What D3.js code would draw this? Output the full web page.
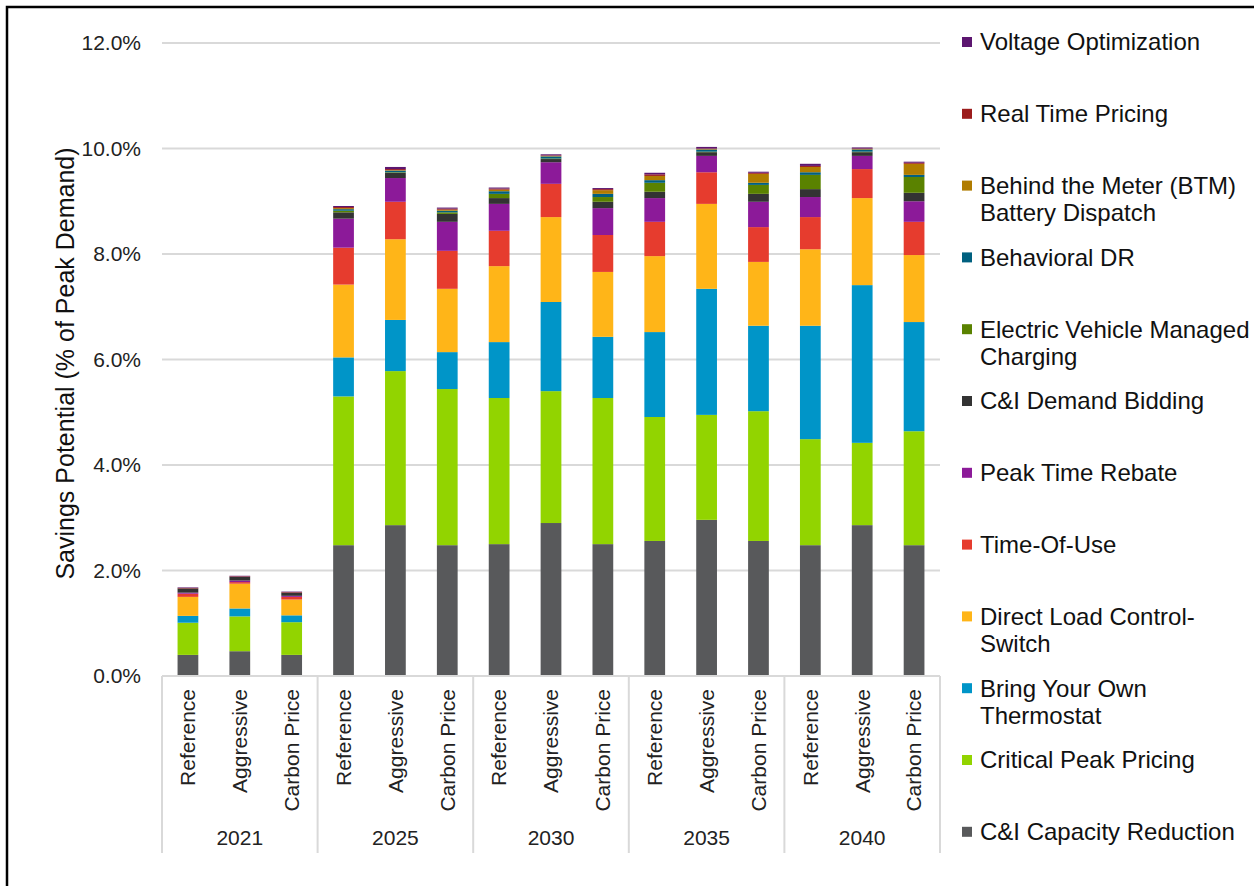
<!DOCTYPE html>
<head>
  <meta charset="utf-8">
  <script src="https://d3js.org/d3.v7.min.js"></script>
  <style>
  body,html {margin:0; background:#fff; font-family:"Liberation Sans", Arial, sans-serif;}
  </style>
</head>
<body>
<script>
// categories
const years = ["2021", "2025", "2030", "2035", "2040"];
const scenarios = ["Reference", "Aggressive", "Carbon Price"];

// series, bottom of stack first (values in % of peak demand)
const capacityReduction = [0.40,0.47,0.40, 2.48,2.86,2.48, 2.50,2.90,2.50, 2.56,2.96,2.56, 2.48,2.86,2.48];
const criticalPeak      = [0.61,0.66,0.62, 2.82,2.92,2.96, 2.77,2.50,2.77, 2.35,1.99,2.46, 2.01,1.56,2.16];
const byot              = [0.13,0.15,0.13, 0.74,0.97,0.70, 1.06,1.69,1.16, 1.61,2.39,1.62, 2.15,2.99,2.07];
const dlcSwitch         = [0.36,0.47,0.30, 1.38,1.53,1.20, 1.44,1.61,1.23, 1.44,1.61,1.21, 1.45,1.65,1.27];
const timeOfUse         = [0.06,0.03,0.05, 0.70,0.71,0.72, 0.67,0.63,0.70, 0.65,0.60,0.66, 0.61,0.55,0.63];
const peakTimeRebate    = [0.02,0.03,0.02, 0.55,0.45,0.55, 0.51,0.41,0.51, 0.45,0.31,0.48, 0.38,0.25,0.39];
const demandBidding     = [0.08,0.07,0.06, 0.12,0.10,0.15, 0.11,0.06,0.12, 0.12,0.07,0.15, 0.15,0.07,0.16];
const evCharging        = [0,0,0, 0.03,0.01,0.03, 0.08,0.01,0.09, 0.17,0.01,0.17, 0.27,0.01,0.30];
const behavioralDR      = [0,0,0, 0.03,0.03,0.03, 0.05,0.04,0.06, 0.05,0.04,0.04, 0.05,0.04,0.04];
const btmBattery        = [0,0,0, 0.02,0.01,0.02, 0.03,0.01,0.07, 0.08,0.01,0.17, 0.10,0.01,0.21];
const realTimePricing   = [0.01,0.01,0.01, 0.02,0.02,0.02, 0.02,0.01,0.02, 0.03,0.01,0.02, 0.02,0.01,0.02];
const voltageOpt        = [0.01,0.01,0.01, 0.02,0.04,0.02, 0.02,0.02,0.02, 0.03,0.03,0.02, 0.04,0.02,0.02];

const seriesNames = ["C&I Capacity Reduction", "Critical Peak Pricing", "Bring Your Own Thermostat",
  "Direct Load Control-Switch", "Time-Of-Use", "Peak Time Rebate", "C&I Demand Bidding",
  "Electric Vehicle Managed Charging", "Behavioral DR", "Behind the Meter (BTM) Battery Dispatch",
  "Real Time Pricing", "Voltage Optimization"];
const seriesValues = [capacityReduction, criticalPeak, byot, dlcSwitch, timeOfUse, peakTimeRebate,
  demandBidding, evCharging, behavioralDR, btmBattery, realTimePricing, voltageOpt];
const colors = ["#58595b", "#92d400", "#0095c8", "#ffb518", "#e63c2e", "#8c1a99",
  "#333333", "#5a8200", "#00607f", "#b07c00", "#9c1c1c", "#5c1670"];
// legend wording split as in the original
const legendLines = [["C&I Capacity Reduction"], ["Critical Peak Pricing"], ["Bring Your Own", "Thermostat"],
  ["Direct Load Control-", "Switch"], ["Time-Of-Use"], ["Peak Time Rebate"], ["C&I Demand Bidding"],
  ["Electric Vehicle Managed", "Charging"], ["Behavioral DR"], ["Behind the Meter (BTM)", "Battery Dispatch"],
  ["Real Time Pricing"], ["Voltage Optimization"]];
const yTicks = [0, 2, 4, 6, 8, 10, 12];

const W = 1254, H = 886;
const plotL = 162, plotR = 940, plotT = 43, plotB = 676;

const svg = d3.select("body").append("svg").attr("width", W).attr("height", H);

// outer frame (right/bottom edges run off the picture)
svg.append("path").attr("d", `M7,${H+5} L7,7 L${W+5},7`)
  .attr("fill", "none").attr("stroke", "#000").attr("stroke-width", 2.5);

const rows = [];
years.forEach((yr, gi) => scenarios.forEach((s, si) => {
  const row = {id: yr + "|" + s, year: yr, scen: s};
  seriesNames.forEach((n, k) => row[n] = seriesValues[k][gi * 3 + si]);
  rows.push(row);
}));

const x = d3.scaleBand().domain(rows.map(d => d.id)).range([plotL, plotR])
  .paddingInner(0.6).paddingOuter(0.3);
const y = d3.scaleLinear().domain([0, 12]).range([plotB, plotT]);

// gridlines + y labels
svg.append("g").selectAll("line").data(yTicks.filter(t => t > 0)).join("line")
  .attr("x1", plotL).attr("x2", plotR)
  .attr("y1", d => y(d)).attr("y2", d => y(d))
  .attr("stroke", "#d9d9d9").attr("stroke-width", 2);

svg.append("g").selectAll("text").data(yTicks).join("text")
  .attr("x", 141).attr("y", d => y(d)).attr("dy", "0.35em")
  .attr("text-anchor", "end").attr("font-size", 21).attr("fill", "#222")
  .text(d => d.toFixed(1) + "%");

svg.append("text")
  .attr("transform", `translate(74,${(plotT + plotB) / 2 + 4}) rotate(-90)`)
  .attr("text-anchor", "middle").attr("font-size", 25).attr("fill", "#111")
  .text("Savings Potential (% of Peak Demand)");

// stacked bars
const stack = d3.stack().keys(seriesNames)(rows);
svg.append("g").selectAll("g").data(stack).join("g")
  .attr("fill", (d, i) => colors[i])
  .selectAll("rect").data(d => d).join("rect")
  .attr("x", d => x(d.data.id))
  .attr("width", x.bandwidth())
  .attr("y", d => y(d[1]))
  .attr("height", d => Math.max(0, y(d[0]) - y(d[1])));

// category axis
const step = x.step();
svg.append("line").attr("x1", plotL).attr("x2", plotR).attr("y1", plotB).attr("y2", plotB)
  .attr("stroke", "#d9d9d9").attr("stroke-width", 2);
const seps = d3.range(years.length + 1).map(i => plotL + i * 3 * step);
svg.append("g").selectAll("line").data(seps).join("line")
  .attr("x1", d => d).attr("x2", d => d).attr("y1", plotB).attr("y2", 853)
  .attr("stroke", "#d9d9d9").attr("stroke-width", 2);

svg.append("g").selectAll("text").data(rows).join("text")
  .attr("transform", d => `translate(${x(d.id) + x.bandwidth() / 2},689) rotate(-90)`)
  .attr("text-anchor", "end").attr("dy", "0.35em")
  .attr("font-size", 21).attr("fill", "#222")
  .text(d => d.scen);

svg.append("g").selectAll("text").data(years).join("text")
  .attr("x", (d, i) => plotL + (i + 0.5) * 3 * step).attr("y", 838).attr("dy", "0.35em")
  .attr("text-anchor", "middle").attr("font-size", 21).attr("fill", "#222")
  .text(d => d);

// legend, top item is the top of the stack
const legend = svg.append("g").selectAll("g").data(d3.range(seriesNames.length).reverse()).join("g")
  .attr("transform", (k, i) => `translate(962,${42 + i * 71.8})`);
legend.append("rect").attr("x", 0).attr("y", -5).attr("width", 10).attr("height", 10)
  .attr("fill", k => colors[k]);
legend.append("text").attr("font-size", 24).attr("fill", "#111")
  .selectAll("tspan").data(k => legendLines[k]).join("tspan")
  .attr("x", 18).attr("y", (d, i) => i * 27).attr("dy", "0.35em")
  .text(d => d);
</script>
</body>
